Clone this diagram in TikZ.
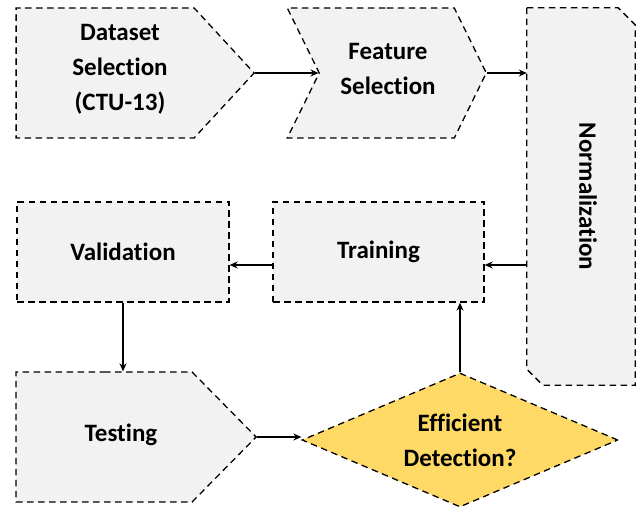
\documentclass[tikz,border=0pt]{standalone}
\usepackage{fontspec}
\setmainfont{Carlito}[Ligatures=NoCommon]
\usetikzlibrary{shapes.symbols,shapes.geometric,arrows.meta,calc}
\definecolor{boxgray}{HTML}{F2F2F2}
\definecolor{decgold}{HTML}{FFD966}
\tikzset{
  flowbox/.style={draw, fill=boxgray, line width=1.3pt, dash pattern=on 6.5pt off 4.5pt, inner sep=0pt},
  flowtxt/.style={font=\bfseries\fontsize{25}{35}\selectfont, align=center, text=black},
  flowarr/.style={-{Stealth[length=8pt,width=7pt]}, line width=1.3pt}
}

\begin{document}
\begin{tikzpicture}[x=1pt,y=1pt]
\useasboundingbox (0,0) rectangle (638,-510);

% top row
\node[flowbox, signal, signal to=east, minimum width=238pt, minimum height=130pt,
      signal pointer angle=94.6, anchor=east] (dataset) at (255,-73) {};
\node[flowtxt] (datasettxt) at (120,-69) {Dataset\\Selection\\(CTU-13)};

\node[flowbox, signal, signal from=west, signal to=east, minimum width=199pt, minimum height=130pt,
      signal pointer angle=127.6, anchor=east] (feature) at (487,-73) {};
\node[flowtxt] (featuretxt) at (388,-69) {Feature\\Selection};

% normalization column
\node[minimum width=108pt, minimum height=377pt, inner sep=0pt] (norm) at (581,-196.5) {};
\draw[flowbox] (norm.north west) -- ([xshift=-17pt]norm.north east) -- ([yshift=-17pt]norm.north east)
   -- (norm.south east) -- ([xshift=16pt]norm.south west) -- ([yshift=16pt]norm.south west) -- cycle;
\node[flowtxt, rotate=-90] (normtxt) at ([xshift=7pt]norm.center) {Normalization};

% middle row
\node[flowbox, minimum width=211pt, minimum height=100pt] (training) at (378.5,-252) {};
\node[flowtxt] (trainingtxt) at (training.center) {Training};
\node[flowbox, minimum width=212pt, minimum height=100pt] (validation) at (123,-252) {};
\node[flowtxt] (validationtxt) at (validation.center) {Validation};

% bottom row
\node[flowbox, signal, signal to=east, minimum width=240pt, minimum height=130pt,
      signal pointer angle=90.9, anchor=east] (testing) at (257,-437) {};
\node[flowtxt] (testingtxt) at (121,-435) {Testing};

\node[flowbox, fill=decgold, diamond, minimum width=316pt, minimum height=134pt] (decision) at (460,-440) {};
\node[flowtxt] (decisiontxt) at (decision.center) {Efficient\\Detection?};

% arrows
\coordinate (trainin) at ([yshift=-13pt]training.east);
\coordinate (trainout) at ([yshift=-13pt]training.west);
\draw[flowarr] (dataset.east) -- (feature.west);
\draw[flowarr] (feature.east) -- (feature.east -| norm.west);
\draw[flowarr] (trainin -| norm.west) -- (trainin);
\draw[flowarr] (trainout) -- (trainout -| validation.east);
\draw[flowarr] (validation.south) -- (validation.south |- testing.north);
\draw[flowarr] (testing.east) -- (testing.east -| decision.west);
\draw[flowarr] (decision.north) -- (decision.north |- training.south);

\end{tikzpicture}
\end{document}
